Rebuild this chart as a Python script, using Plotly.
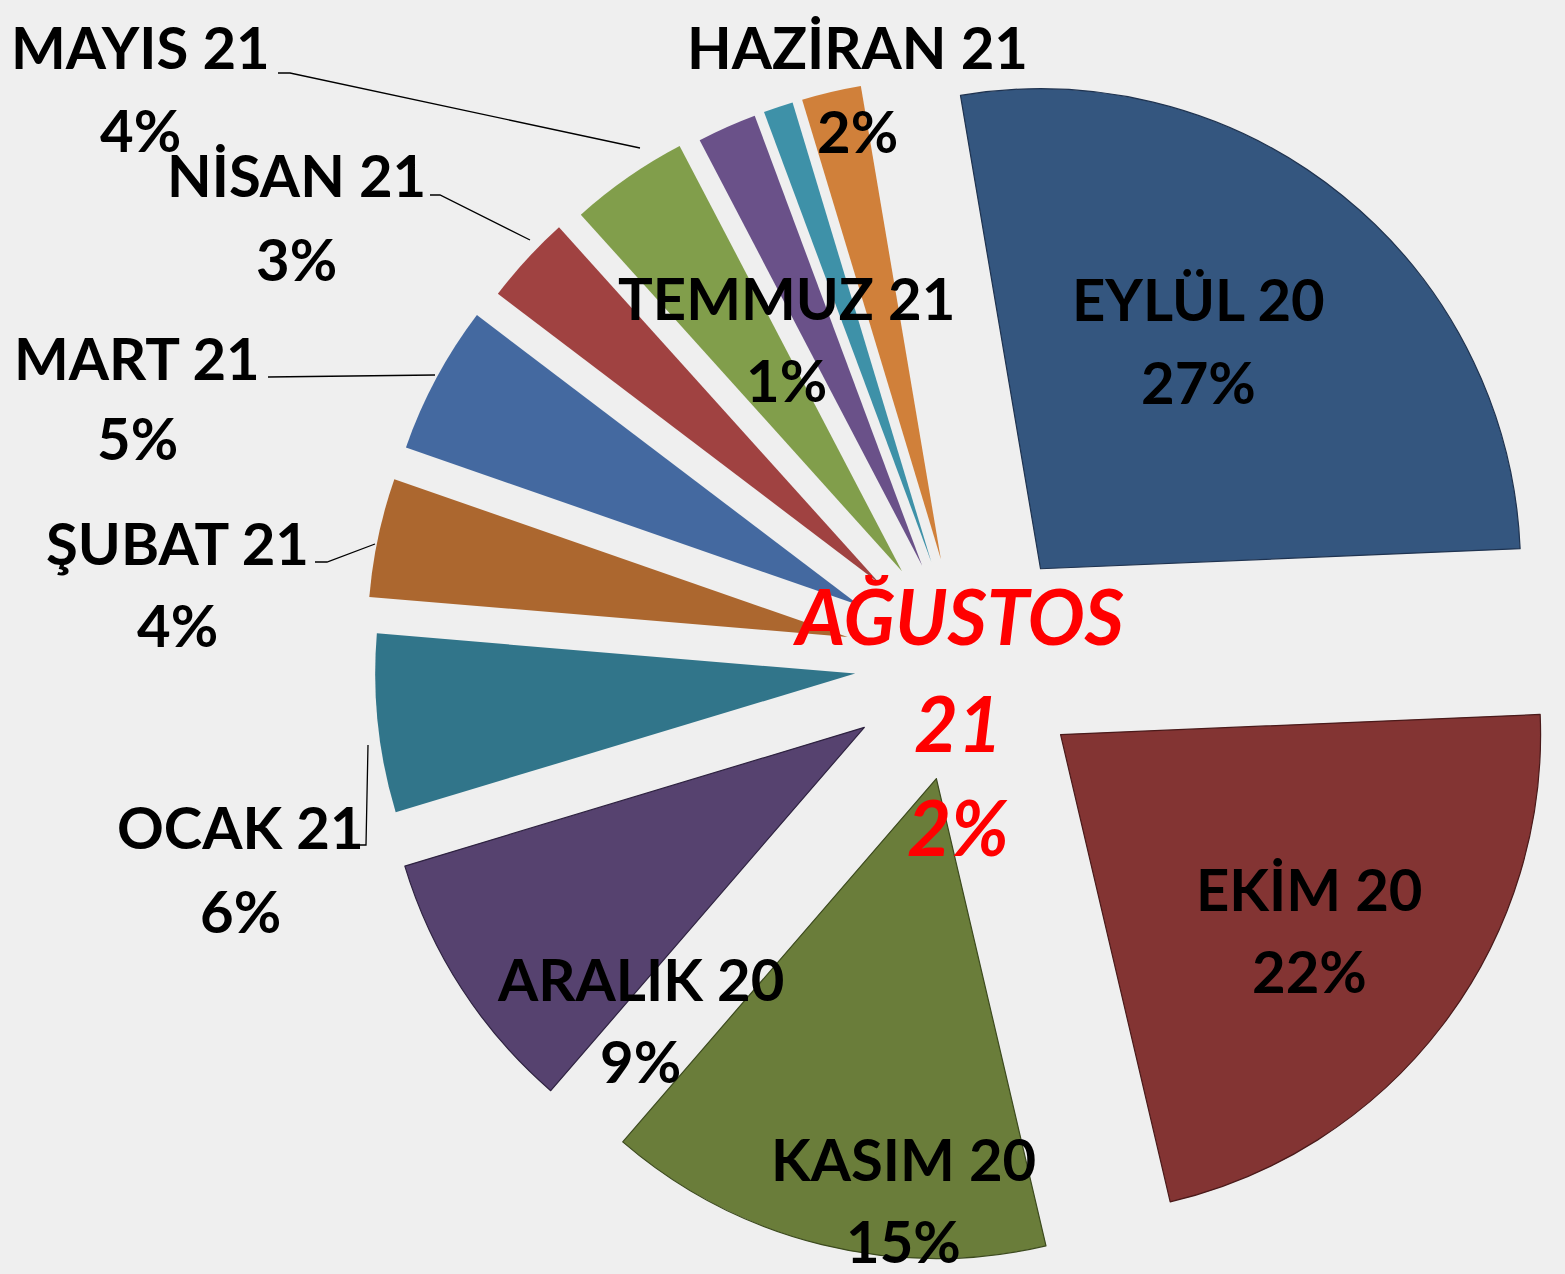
import plotly.graph_objects as go

# ---- data ----
months = ["EYLÜL 20", "EKİM 20", "KASIM 20", "ARALIK 20", "OCAK 21", "ŞUBAT 21",
          "MART 21", "NİSAN 21", "MAYIS 21", "HAZİRAN 21", "TEMMUZ 21", "AĞUSTOS 21"]
shares = [27, 22, 15, 9, 6, 4, 5, 3, 4, 2, 1, 2]
colors = ["#34567F", "#833433", "#6A7D3A", "#56426F", "#31758A", "#AC672F",
          "#4469A0", "#A04241", "#819E4B", "#6A5189", "#3E91A8", "#D0803A"]
edge_colors = ["#1F3350", "#4A1A1A", "#3C4A1E", "#2E2240", "#31758A", "#AC672F",
               "#4469A0", "#A04241", "#819E4B", "#6A5189", "#3E91A8", "#D0803A"]
edge_widths = [1.2, 1.2, 1.2, 1.2, 0, 0, 0, 0, 0, 0, 0, 0]
pulls = [0.25, 0.25, 0.25, 0.25, 0.23, 0.25, 0.25, 0.24, 0.23, 0.22, 0.22, 0.22]

W, H = 1565, 1274
FONT = "Lato, 'Open Sans', sans-serif"
CX, CY, HALF = 965, 662, 600

fig = go.Figure()
fig.add_trace(go.Pie(
    labels=months, values=shares, sort=False, direction="clockwise",
    rotation=-9.6, pull=pulls, textinfo="none", hoverinfo="label+percent",
    marker=dict(colors=colors, line=dict(color=edge_colors, width=edge_widths)),
    domain=dict(x=[(CX - HALF) / W, 1.0],
                y=[1 - (CY + HALF) / H, 1 - (CY - HALF) / H]),
    showlegend=False,
))

def px(x, y):
    return x / W, 1 - y / H

# label placement (pixel centres of name line and percent line)
label_pos = {
    0: (1198, 298, 381), 1: (1309, 888, 970), 2: (903, 1158, 1240),
    3: (640, 978, 1060), 4: (240, 826, 910), 5: (177, 542, 625),
    6: (137, 357, 438), 7: (296, 175, 258), 8: (140, 46, 129),
    9: (857, 47, 130), 10: (787, 297, 380),
}
annotations = []
for i, (cx, y1, y2) in label_pos.items():
    for txt, yy in ((months[i], y1), (f"{shares[i]}%", y2)):
        x, y = px(cx, yy)
        annotations.append(dict(
            x=x, y=y, xref="paper", yref="paper", text=f"<b>{txt}</b>",
            showarrow=False, xanchor="center", yanchor="middle",
            font=dict(family=FONT, size=58, color="black")))

# highlighted label (AĞUSTOS 21)
agu_name, agu_year = months[11].split(" ")
for txt, yy in ((agu_name, 615), (agu_year, 722), (f"{shares[11]}%", 826)):
    x, y = px(958, yy)
    annotations.append(dict(
        x=x, y=y, xref="paper", yref="paper", text=f"<b><i>{txt}</i></b>",
        showarrow=False, xanchor="center", yanchor="middle",
        font=dict(family=FONT, size=76, color="#FF0000")))

# leader lines
leaders = [
    [(278, 73), (290, 73), (640, 148)],
    [(430, 195), (440, 195), (530, 240)],
    [(268, 377), (435, 375)],
    [(315, 562), (327, 562), (375, 544)],
    [(360, 845), (366, 845), (368, 745)],
]
shapes = []
for pts in leaders:
    path = "M " + " L ".join(f"{px(a, b)[0]},{px(a, b)[1]}" for a, b in pts)
    shapes.append(dict(type="path", xref="paper", yref="paper", path=path,
                       line=dict(color="black", width=1.3)))

fig.update_layout(
    width=W, height=H, margin=dict(l=0, r=0, t=0, b=0),
    paper_bgcolor="#EFEFEF", plot_bgcolor="#EFEFEF",
    annotations=annotations, shapes=shapes,
)
fig.write_html("out.html", config={"displayModeBar": False},
               post_script="document.body.style.margin='0';document.body.style.overflow='hidden';")
